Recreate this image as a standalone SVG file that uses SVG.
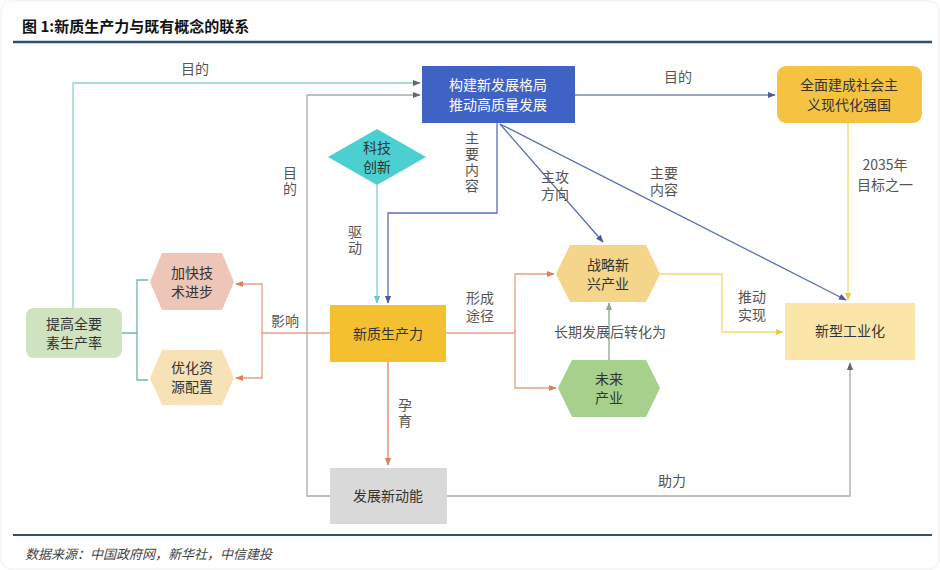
<svg xmlns="http://www.w3.org/2000/svg" width="940" height="570" viewBox="0 0 940 570">
<style>
text{font-family:"Noto Sans CJK SC","Noto Sans",sans-serif;font-size:14px;fill:#333}
.c{text-anchor:middle}
.l{fill:#555}
.v{writing-mode:vertical-rl;text-anchor:start;letter-spacing:2px}
.ln{fill:none;stroke-width:1.3}
</style>
<defs>
<marker id="ag" viewBox="0 0 10 10" refX="9" refY="5" markerWidth="6" markerHeight="6" orient="auto"><path d="M0,1 L10,5 L0,9z" fill="#666"/></marker>
<marker id="ab" viewBox="0 0 10 10" refX="9" refY="5" markerWidth="6" markerHeight="6" orient="auto"><path d="M0,1 L10,5 L0,9z" fill="#4a5a9c"/></marker>
<marker id="at" viewBox="0 0 10 10" refX="9" refY="5" markerWidth="6" markerHeight="6" orient="auto"><path d="M0,1 L10,5 L0,9z" fill="#6cc8cf"/></marker>
<marker id="ao" viewBox="0 0 10 10" refX="9" refY="5" markerWidth="6" markerHeight="6" orient="auto"><path d="M0,1 L10,5 L0,9z" fill="#e0805a"/></marker>
<marker id="ay" viewBox="0 0 10 10" refX="9" refY="5" markerWidth="6" markerHeight="6" orient="auto"><path d="M0,1 L10,5 L0,9z" fill="#e8cc50"/></marker>
<marker id="agr" viewBox="0 0 10 10" refX="9" refY="5" markerWidth="6" markerHeight="6" orient="auto"><path d="M0,1 L10,5 L0,9z" fill="#8aa88a"/></marker>
</defs>
<rect x="1" y="1" width="938" height="568" rx="10" fill="#fff" stroke="#eee"/>
<text x="22" y="32" style="font-size:15px;font-weight:bold;fill:#111">图 1:新质生产力与既有概念的联系</text>
<line x1="13" y1="42" x2="932" y2="42" stroke="#2f4f6f" stroke-width="2.5"/>
<g id="connectors">
<path class="ln" d="M73,308 V83 H420" stroke="#8fd3c8" marker-end="url(#ag)"/>
<text class="c l" x="195" y="74">目的</text>
<path class="ln" d="M330,496 H307 V95 H420" stroke="#aaa" marker-end="url(#ag)"/>
<text class="v l" x="290" y="166">目的</text>
<path class="ln" d="M497,123 V213 H388 V303" stroke="#5b6eb8" marker-end="url(#ab)"/>
<text class="v l" x="472" y="131">主要内容</text>
<path class="ln" d="M377,185 V303" stroke="#7fd0d8" marker-end="url(#at)"/>
<text class="v l" x="355" y="225">驱动</text>
<path class="ln" d="M575,95 H775" stroke="#7a86b0" marker-end="url(#ab)"/>
<text class="c l" x="678" y="82">目的</text>
<path class="ln" d="M500,124 L603,242" stroke="#5b6eb8" marker-end="url(#ab)"/>
<text class="c l" x="555" y="182">主攻</text><text class="c l" x="555" y="199">方向</text>
<path class="ln" d="M500,124 L846,300" stroke="#5b6eb8" marker-end="url(#ab)"/>
<text class="c l" x="664" y="178">主要</text><text class="c l" x="664" y="195">内容</text>
<path class="ln" d="M848,123 V300" stroke="#f0d870" marker-end="url(#ay)"/>
<text class="c l" x="885" y="170">2035年</text><text class="c l" x="885" y="190">目标之一</text>
<path class="ln" d="M660,274 H722 V332 H783" stroke="#f0dc70" marker-end="url(#ay)"/>
<text class="c l" x="752" y="302">推动</text><text class="c l" x="752" y="320">实现</text>
<path class="ln" d="M609,360 V303" stroke="#8aa88a" marker-end="url(#agr)"/>
<text class="c l" x="610" y="337">长期发展后转化为</text>
<path class="ln" d="M446,333 H515 M515,333 V274 H554" stroke="#e8a080" marker-end="url(#ao)"/>
<path class="ln" d="M515,330 V388 H556" stroke="#e8a080" marker-end="url(#ao)"/>
<text class="c l" x="480" y="303">形成</text><text class="c l" x="480" y="321">途径</text>
<path class="ln" d="M388,362 V465" stroke="#e0805a" marker-end="url(#ao)"/>
<text class="v l" x="405" y="398">孕育</text>
<path class="ln" d="M330,333 H262 V284 H236" stroke="#e8a080" marker-end="url(#ao)"/>
<path class="ln" d="M262,333 V378 H236" stroke="#e8a080" marker-end="url(#ao)"/>
<text class="c l" x="285" y="326">影响</text>
<path class="ln" d="M122,333 H137 M148,280 H137 V380 H148" stroke="#6fb8a0"/>
<path class="ln" d="M447,496 H850 V363" stroke="#aaa" marker-end="url(#ag)"/>
<text class="c l" x="672" y="486">助力</text>
</g>
<g id="n-goujian"><rect x="422" y="66" width="153" height="57" fill="#3f63c4"/><text class="c" x="498" y="90" style="fill:#fff">构建新发展格局</text><text class="c" x="498" y="110" style="fill:#fff">推动高质量发展</text></g>
<g id="n-quanmian"><rect x="777" y="66" width="145" height="57" rx="9" fill="#f5c242"/><text class="c" x="849" y="90">全面建成社会主</text><text class="c" x="849" y="110">义现代化强国</text></g>
<g id="n-keji"><path d="M328,157 L377,129 L426,157 L377,185z" fill="#4ccfd0"/><text class="c" x="377" y="153">科技</text><text class="c" x="377" y="172">创新</text></g>
<g id="n-xinzhi"><rect x="330" y="305" width="116" height="57" fill="#f5c030"/><text class="c" x="388" y="339">新质生产力</text></g>
<g id="n-dongneng"><rect x="330" y="468" width="117" height="56" fill="#d9d9d9"/><text class="c" x="388" y="501">发展新动能</text></g>
<g id="n-tigao"><rect x="26" y="308" width="96" height="50" rx="8" fill="#cfe3c0"/><text class="c" x="74" y="329">提高全要</text><text class="c" x="74" y="348">素生产率</text></g>
<g id="n-jiakuai"><path d="M150,282 L162,253 L222,253 L234,282 L222,310 L162,310z" fill="#edc6b7"/><text class="c" x="192" y="278">加快技</text><text class="c" x="192" y="297">术进步</text></g>
<g id="n-youhua"><path d="M150,378 L162,350 L222,350 L234,378 L222,405 L162,405z" fill="#f7e2b8"/><text class="c" x="192" y="373">优化资</text><text class="c" x="192" y="392">源配置</text></g>
<g id="n-zhanlue"><path d="M556,274 L570,245 L646,245 L660,274 L646,302 L570,302z" fill="#f5d58a"/><text class="c" x="608" y="270">战略新</text><text class="c" x="608" y="289">兴产业</text></g>
<g id="n-weilai"><path d="M558,388 L572,360 L646,360 L660,388 L646,417 L572,417z" fill="#a8d08d"/><text class="c" x="609" y="384">未来</text><text class="c" x="609" y="403">产业</text></g>
<g id="n-xinxing"><rect x="785" y="303" width="130" height="57" fill="#fbe6a8"/><text class="c" x="850" y="336">新型工业化</text></g>
<line x1="13" y1="535" x2="932" y2="535" stroke="#2f4f6f" stroke-width="2"/>
<text x="25" y="559" style="font-size:13px;font-style:italic;fill:#444">数据来源：中国政府网，新华社，中信建投</text>
</svg>
